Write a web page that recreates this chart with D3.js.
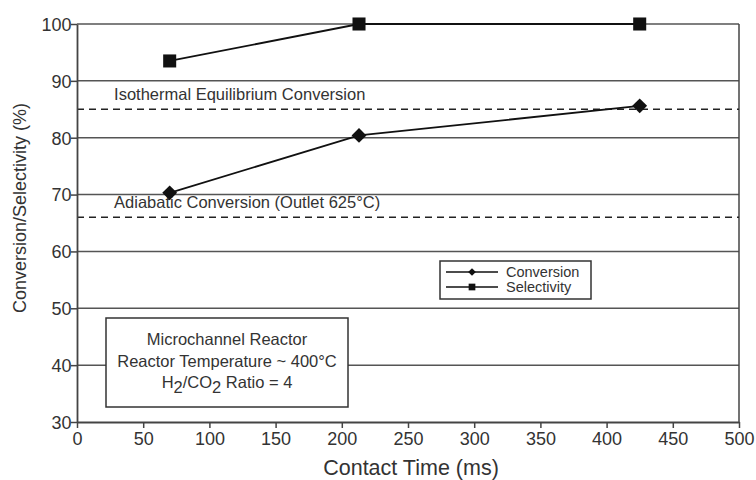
<!DOCTYPE html>
<html>
<head>
<meta charset="utf-8">
<script src="https://cdn.jsdelivr.net/npm/d3@7"></script>
<style>
  body { margin: 0; background: #fff; }
  text { font-family: "Liberation Sans", Arial, sans-serif; fill: #333; }
</style>
</head>
<body>
<svg id="drawing_region"></svg>
<script>
// contact time (ms)
const contactTime = [70, 213, 425];
const conversion = [70.3, 80.4, 85.6];
const selectivity = [93.5, 100, 100];
const isothermalEq = 85;
const adiabatic = 66;
const xTicks = [0, 50, 100, 150, 200, 250, 300, 350, 400, 450, 500];
const yTicks = [30, 40, 50, 60, 70, 80, 90, 100];

const config = {
    width: 756,
    height: 480,
    margin: {top: 24, right: 17, bottom: 58, left: 77}
};

const svg = d3.select('#drawing_region')
    .attr('width', config.width)
    .attr('height', config.height);

const inner_width = config.width - config.margin.left - config.margin.right;
const inner_height = config.height - config.margin.top - config.margin.bottom;

const chart = svg.append('g')
    .attr('transform', `translate(${config.margin.left}, ${config.margin.top})`);

const xscale = d3.scaleLinear().domain([0, 500]).range([0, inner_width]);
const yscale = d3.scaleLinear().domain([30, 100]).range([inner_height, 0]);

// gridlines
chart.selectAll('.grid')
    .data(yTicks.filter(d => d > 30))
    .join('line')
    .attr('x1', 0).attr('x2', inner_width)
    .attr('y1', d => yscale(d)).attr('y2', d => yscale(d))
    .attr('stroke', '#555').attr('stroke-width', 1.5);

// right border
chart.append('line')
    .attr('x1', inner_width).attr('x2', inner_width)
    .attr('y1', 0).attr('y2', inner_height)
    .attr('stroke', '#444').attr('stroke-width', 1.5);

// dashed reference lines
[isothermalEq, adiabatic].forEach(v => {
    chart.append('line')
        .attr('x1', 0).attr('x2', inner_width)
        .attr('y1', yscale(v)).attr('y2', yscale(v))
        .attr('stroke', '#222').attr('stroke-width', 1.5)
        .attr('stroke-dasharray', '7,5');
});

chart.append('text')
    .attr('x', xscale(28)).attr('y', yscale(isothermalEq) - 9)
    .attr('font-size', 16.5)
    .text('Isothermal Equilibrium Conversion');

chart.append('text')
    .attr('x', xscale(28)).attr('y', yscale(adiabatic) - 9)
    .attr('font-size', 16.5)
    .text('Adiabatic Conversion (Outlet 625°C)');

// axes
const xaxis = d3.axisBottom(xscale).tickValues(xTicks).tickSize(6).tickSizeOuter(0);
const yaxis = d3.axisLeft(yscale).tickValues(yTicks).tickSize(6).tickSizeOuter(0);

const xg = chart.append('g')
    .attr('transform', `translate(0, ${inner_height})`)
    .call(xaxis);
const yg = chart.append('g').call(yaxis);

[xg, yg].forEach(g => {
    g.select('.domain').attr('stroke', '#444').attr('stroke-width', 1.8);
    g.selectAll('.tick line').attr('stroke', '#444').attr('stroke-width', 1.5);
    g.selectAll('.tick text').attr('font-size', 18).attr('fill', '#333')
        .attr('font-family', '"Liberation Sans", Arial, sans-serif');
});
xg.selectAll('.tick text').attr('dy', '0.8em');
yg.selectAll('.tick text').attr('dx', '0.2em').attr('dy', '0.35em');

// axis titles
svg.append('text')
    .attr('x', config.margin.left + inner_width / 2 + 3)
    .attr('y', 475)
    .attr('text-anchor', 'middle')
    .attr('font-size', 21.5)
    .text('Contact Time (ms)');

svg.append('text')
    .attr('transform', 'translate(26, 208) rotate(-90)')
    .attr('text-anchor', 'middle')
    .attr('font-size', 18)
    .text('Conversion/Selectivity (%)');

// series
const line = d3.line().x(d => xscale(d[0])).y(d => yscale(d[1]));
const convData = contactTime.map((t, i) => [t, conversion[i]]);
const selData = contactTime.map((t, i) => [t, selectivity[i]]);

chart.append('path').datum(convData).attr('d', line)
    .attr('fill', 'none').attr('stroke', '#111').attr('stroke-width', 1.8);
chart.append('path').datum(selData).attr('d', line)
    .attr('fill', 'none').attr('stroke', '#111').attr('stroke-width', 1.8);

chart.selectAll('.conv')
    .data(convData)
    .join('path')
    .attr('transform', d => `translate(${xscale(d[0])}, ${yscale(d[1])}) rotate(45)`)
    .attr('d', d3.symbol().type(d3.symbolSquare).size(110))
    .attr('fill', '#111');

chart.selectAll('.sel')
    .data(selData)
    .join('path')
    .attr('transform', d => `translate(${xscale(d[0])}, ${yscale(d[1])})`)
    .attr('d', d3.symbol().type(d3.symbolSquare).size(170))
    .attr('fill', '#111');

// legend
const legend = svg.append('g').attr('transform', 'translate(440, 261)');
legend.append('rect').attr('width', 151).attr('height', 38)
    .attr('fill', '#fff').attr('stroke', '#333').attr('stroke-width', 1.5);
[['Conversion', 'diamond'], ['Selectivity', 'square']].forEach((s, i) => {
    const y = 11 + i * 15;
    legend.append('line').attr('x1', 6).attr('x2', 58).attr('y1', y).attr('y2', y)
        .attr('stroke', '#111').attr('stroke-width', 1.5);
    legend.append('path')
        .attr('transform', `translate(32, ${y})` + (s[1] === 'diamond' ? ' rotate(45)' : ''))
        .attr('d', d3.symbol().type(d3.symbolSquare).size(s[1] === 'diamond' ? 30 : 45))
        .attr('fill', '#111');
    legend.append('text').attr('x', 66).attr('y', y + 4.5)
        .attr('font-size', 14.5).text(s[0]);
});

// info box
const info = svg.append('g').attr('transform', 'translate(106, 318)');
info.append('rect').attr('width', 242).attr('height', 89)
    .attr('fill', '#fff').attr('stroke', '#333').attr('stroke-width', 1.5);
info.append('text').attr('x', 121).attr('y', 27).attr('text-anchor', 'middle')
    .attr('font-size', 16.5).text('Microchannel Reactor');
info.append('text').attr('x', 121).attr('y', 48.5).attr('text-anchor', 'middle')
    .attr('font-size', 16.5).text('Reactor Temperature ~ 400°C');
const t3 = info.append('text').attr('x', 121).attr('y', 70).attr('text-anchor', 'middle')
    .attr('font-size', 16.5);
t3.append('tspan').text('H');
t3.append('tspan').attr('dy', 5).text('2');
t3.append('tspan').attr('dy', -5).text('/CO');
t3.append('tspan').attr('dy', 5).text('2');
t3.append('tspan').attr('dy', -5).text(' Ratio = 4');
</script>
</body>
</html>
